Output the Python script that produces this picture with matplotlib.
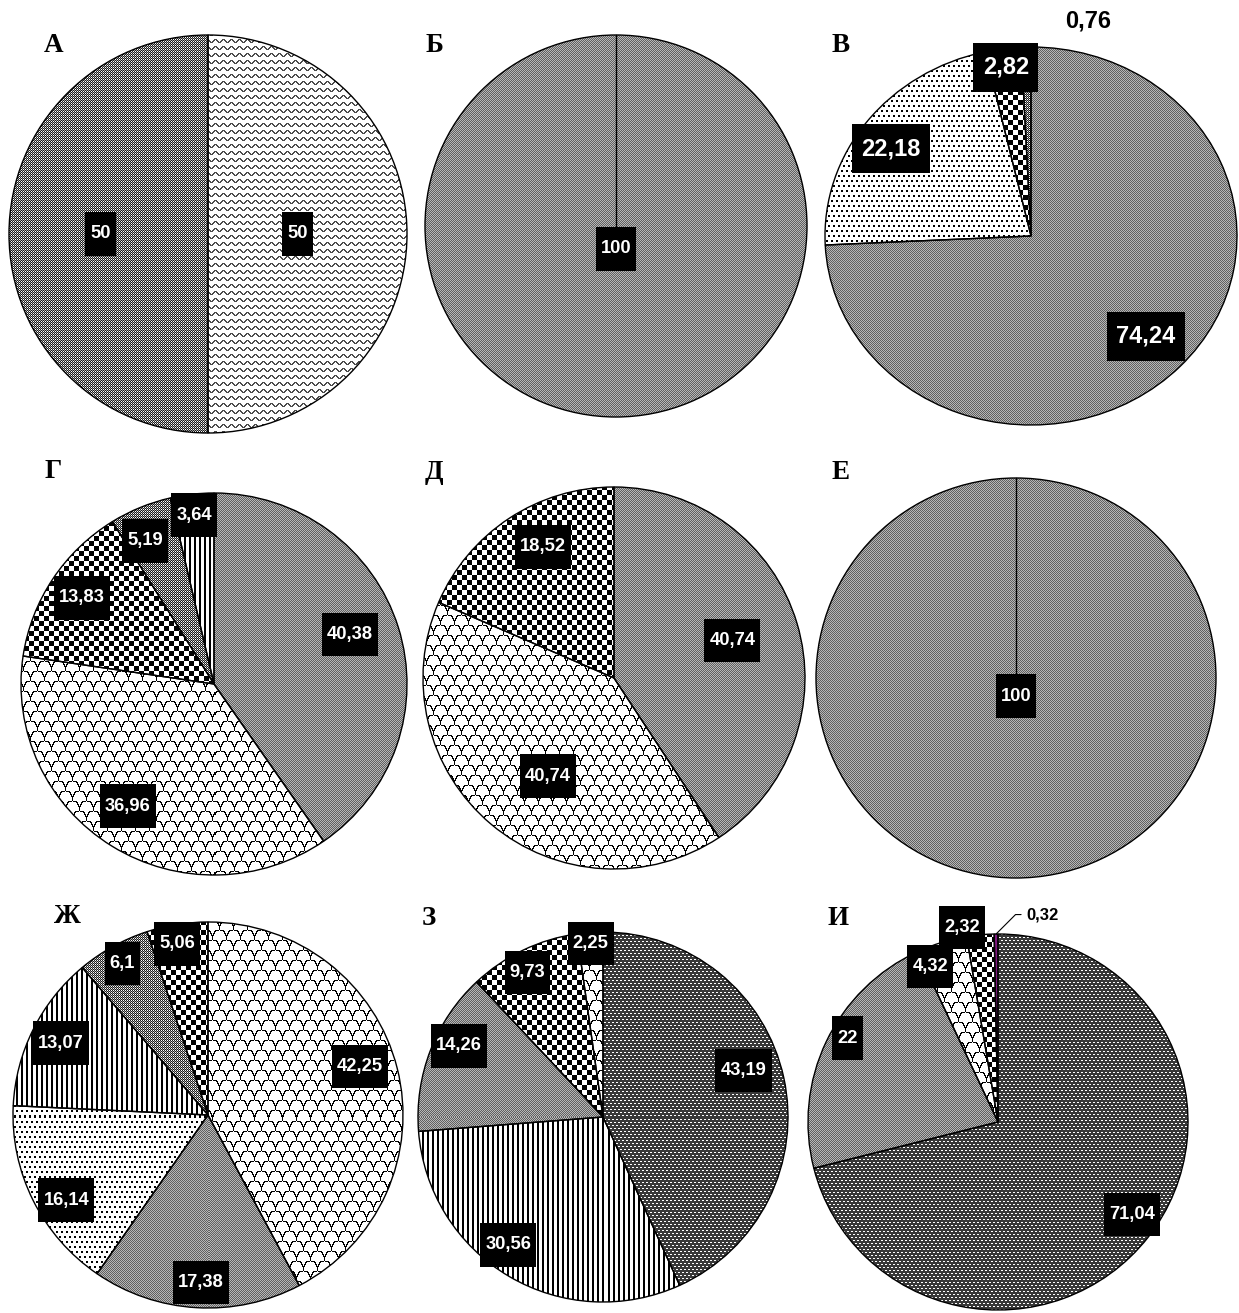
import numpy as np
import matplotlib.pyplot as plt
from matplotlib.path import Path

W, H, DPI = 1239, 1313, 100

# panel letters
letters = ["А", "Б", "В", "Г", "Д", "Е", "Ж", "З", "И"]

# slice values, clockwise from 12 o'clock
a_vals = [50, 50]
b_vals = [100]
v_vals = [74.24, 22.18, 2.82, 0.76]
g_vals = [40.38, 36.96, 13.83, 5.19, 3.64]
d_vals = [40.74, 40.74, 18.52]
e_vals = [100]
zh_vals = [42.25, 17.38, 16.14, 13.07, 6.1, 5.06]
z_vals = [43.19, 30.56, 14.26, 9.73, 2.25]
i_vals = [71.04, 22, 4.32, 2.32, 0.32]

# fill textures per slice
a_fill = ["wavy", "fine"]
b_fill = ["gray"]
v_fill = ["gray", "dots", "checker", "fine"]
g_fill = ["gray", "scale", "checker", "fine", "vstripe"]
d_fill = ["gray", "scale", "checker"]
e_fill = ["gray"]
zh_fill = ["scale", "gray", "dots", "vstripe", "fine", "checker"]
z_fill = ["dark", "vstripe", "gray", "checker", "scale"]
i_fill = ["dark", "gray", "scale", "checker", "purple"]

values = [a_vals, b_vals, v_vals, g_vals, d_vals, e_vals, zh_vals, z_vals, i_vals]
fills = [a_fill, b_fill, v_fill, g_fill, d_fill, e_fill, zh_fill, z_fill, i_fill]

# layout: pie centre and radii in pixels
centers = [(208, 234), (616, 226), (1031, 236),
           (214, 684), (614, 678), (1016, 678),
           (208, 1115), (603, 1117), (998, 1122)]
radii = [(199, 199), (191, 191), (206, 189),
         (193, 191), (191, 191), (200, 200),
         (195, 193), (185, 185), (190, 188)]
letter_pos = [(44, 52), (426, 52), (832, 52),
              (45, 478), (425, 479), (831, 479),
              (54, 923), (422, 925), (827, 925)]

# label placement: radial distance and angle shift from slice middle
label_dist = [[0.45, 0.54], [0.12], [0.77, 0.82, 0.90, 1.17],
              [0.75, 0.78, 0.82, 0.83, 0.89], [0.65, 0.62, 0.78], [0.09],
              [0.82, 0.87, 0.85, 0.84, 0.90, 0.90],
              [0.80, 0.86, 0.87, 0.88, 0.94],
              [0.86, 0.91, 0.90, 1.05, 1.0]]
label_shift = [[0, 0], [0], [0, 3, 0, -15],
               [3, -3, 0, 3, 0], [1, 6, -5], [0],
               [4, 1, 5, 0, 0, 1],
               [6, -6, -5, 2, 0],
               [3, -4, 6, 5, 0]]
label_size = [13.2, 13.2, 17, 13.2, 13.2, 13.2, 13.2, 13.2, 13.2]


def texture(kind, h, w):
    y, x = np.indices((h, w))
    if kind == "gray":
        img = np.where((x + y) % 2 == 0, 0.38, 0.72)
    elif kind == "fine":
        img = np.full((h, w), 0.12)
        img[(x % 2 == 0) & (y % 2 == 0)] = 1.0
        img[(x % 2 == 1) & (y % 2 == 1)] = 0.62
    elif kind == "dark":
        img = np.full((h, w), 0.22)
        shift = (y // 3 % 2) * 2
        img[(y % 3 == 0) & ((x + shift) % 4 < 2)] = 1.0
    elif kind == "wavy":
        phase = (y + 1.6 * np.sin(2 * np.pi * x / 8)) % 7
        img = np.where(np.abs(phase - 3.5) < 0.85, 0.3, 1.0)
    elif kind == "dots":
        shift = (y // 5 % 2) * 2
        img = np.where(((x + shift) % 5 < 2) & (y % 5 < 2), 0.0, 1.0)
    elif kind == "checker":
        img = np.where((x // 5 + y // 5) % 2 == 0, 0.0, 1.0)
    elif kind == "vstripe":
        img = np.where(x % 5 < 2, 0.0, 1.0)
    elif kind == "scale":
        cw, ch = 14, 10
        row = y // ch
        u = (x + (row % 2) * (cw // 2)) % cw
        v = ch - 1 - (y % ch)
        r = np.hypot((u - cw / 2) / (cw / 2), v / ch)
        img = np.where(np.abs(r - 1) < 0.09, 0.0, 1.0)
    else:  # purple
        rgb = np.zeros((h, w, 3))
        rgb[..., :] = (0.5, 0.1, 0.5)
        return rgb
    return np.dstack([img] * 3)


def box_style(pad_x, pad_y):
    def style(x0, y0, width, height, mutation_size):
        px, py = pad_x * mutation_size, pad_y * mutation_size
        x0, y0 = x0 - px, y0 - py
        x1, y1 = x0 + width + 2 * px, y0 + height + 2 * py
        return Path([(x0, y0), (x1, y0), (x1, y1), (x0, y1), (x0, y0)],
                    [Path.MOVETO, Path.LINETO, Path.LINETO, Path.LINETO,
                     Path.CLOSEPOLY])
    return style


def fmt(v):
    return f"{v:g}".replace(".", ",")


fig = plt.figure(figsize=(W / DPI, H / DPI), dpi=DPI)
L = 1.06

for k in range(9):
    cx, cy = centers[k]
    rx, ry = radii[k]
    ax = fig.add_axes([(cx - rx * L) / W, 1 - (cy + ry * L) / H,
                       2 * rx * L / W, 2 * ry * L / H])
    wedges, _ = ax.pie(values[k], startangle=90, counterclock=False, radius=1,
                       wedgeprops=dict(facecolor="none", edgecolor="black",
                                       linewidth=1.0, zorder=3))
    h_px, w_px = int(round(2 * ry * L)), int(round(2 * rx * L))
    for wdg, kind in zip(wedges, fills[k]):
        im = ax.imshow(texture(kind, h_px, w_px), extent=(-L, L, -L, L),
                       interpolation="nearest", aspect="auto", zorder=1)
        im.set_clip_path(wdg)

    if len(values[k]) == 1:
        ax.plot([0, 0], [0, 1], color="black", lw=1.0, zorder=4)

    big = k == 2
    fs = label_size[k]
    pads = (0.4, 0.55) if big else (0.28, 0.72)
    for j, (wdg, val) in enumerate(zip(wedges, values[k])):
        mid = 0.5 * (wdg.theta1 + wdg.theta2)
        if k == 8 and j == 4:
            # tiny slice with leader line
            th = np.deg2rad(mid)
            ax.annotate(fmt(val), xy=(np.cos(th), np.sin(th)),
                        xytext=(22, 14), textcoords="offset points",
                        ha="left", va="center", fontsize=12,
                        fontweight="bold", family="Liberation Sans",
                        annotation_clip=False,
                        arrowprops=dict(arrowstyle="-", lw=0.8, color="black",
                                        relpos=(0, 0.5), shrinkA=2, shrinkB=0,
                                        connectionstyle="angle,angleA=0,angleB=45,rad=0"))
            continue
        th = np.deg2rad(mid + label_shift[k][j])
        d = label_dist[k][j]
        x, y = d * np.cos(th), d * np.sin(th)
        if k == 2 and j == 3:
            ax.text(x, y, fmt(val), ha="center", va="center", fontsize=fs,
                    fontweight="bold", family="Liberation Sans", color="black",
                    clip_on=False, zorder=5)
            continue
        ax.text(x, y, fmt(val), ha="center", va="center", fontsize=fs,
                fontweight="bold", family="Liberation Sans", color="white",
                clip_on=False, zorder=5,
                bbox=dict(boxstyle=box_style(*pads), fc="black", ec="none"))

    ax.set_xlim(-L, L)
    ax.set_ylim(-L, L)
    ax.set_aspect("auto")
    ax.axis("off")

    lx, ly = letter_pos[k]
    fig.text(lx / W, 1 - ly / H, letters[k], ha="left", va="baseline",
             fontsize=19.5, fontweight="bold", family="Liberation Serif")

fig.savefig("out.png", dpi=DPI, facecolor="white")
